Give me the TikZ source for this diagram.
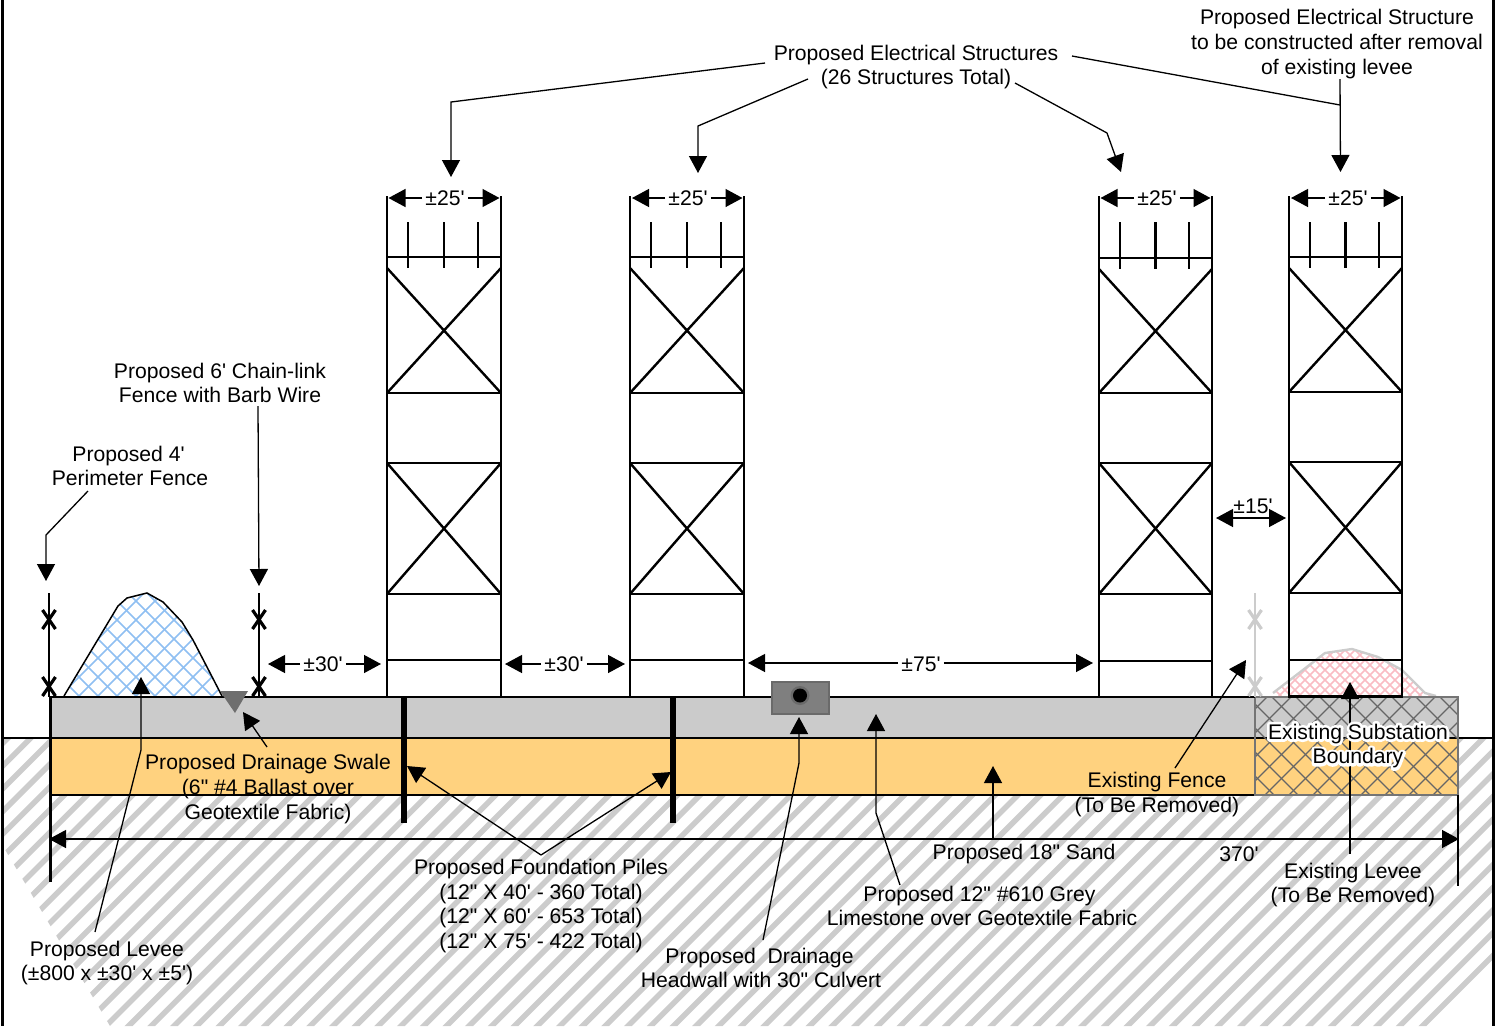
\documentclass[tikz,border=0pt]{standalone}
\usepackage{fontspec}
\usetikzlibrary{arrows.meta}
\newfontfamily\labfont{Liberation Sans}
\definecolor{hatchgrey}{HTML}{CCCCCC}
\definecolor{bandgrey}{HTML}{CBCBCB}
\definecolor{sand}{HTML}{FFD27F}
\definecolor{levblue}{HTML}{8FBFF2}
\definecolor{levpink}{HTML}{F9BCC4}
\definecolor{subgrey}{HTML}{666666}
\definecolor{headfill}{HTML}{7F7F7F}
\definecolor{headedge}{HTML}{6A6A6A}
\newcommand{\halotxt}[1]{\leavevmode\rlap{\special{pdf:code q 1 1 1 RG 1 1 1 rg 5.5 w 1 j 1 J 2 Tr}\textcolor{white}{#1}\special{pdf:code Q}}#1}
\tikzset{
  lab/.style={font=\labfont\fontsize{21.15}{24.7}\selectfont,align=center,inner sep=0pt,text=black},
  dimlab/.style={font=\labfont\fontsize{21.15}{24.7}\selectfont,inner sep=3pt,text=black},
  leader/.style={draw=black,line width=1.3pt,-{Triangle[length=17pt,width=18pt]}},
  plainlead/.style={draw=black,line width=1.3pt},
  dimboth/.style={draw=black,line width=1.3pt,{Triangle[length=17pt,width=18pt]}-{Triangle[length=17pt,width=18pt]}},
  member/.style={draw=black,line width=2.4pt},
  pile/.style={draw=black,line width=6pt},
  fenceline/.style={line width=2.3pt},
  fencex/.style={line width=3.2pt},
  soilline/.style={draw=black,line width=2.2pt},
  hatchline/.style={draw=hatchgrey,line width=5.5pt}
}
\begin{document}
\begin{tikzpicture}[x=1pt,y=-1pt]
\useasboundingbox (0,0) rectangle (1502,1026);
% soil hatch
\begin{scope}
\clip (3,738) -- (1494,738) -- (1494,1026) -- (110,1026) -- (7,853) -- (3,846) -- cycle;
\foreach \c in {0,...,75} {
  \pgfmathsetmacro{\k}{746+\c*22.7}
  \draw[hatchline] (\k-700,700) -- (\k-1100,1100);
}
\end{scope}
% bands
\fill[bandgrey] (50,697) rectangle (1458,738);
\fill[sand] (50,738) rectangle (1458,795);
% blue levee
\begin{scope}
\clip (64,696) -- (118,606) -- (127,598) -- (147,593) -- (163,602) -- (182,622) -- (193,640) -- (222,696) -- cycle;
\foreach \c in {0,...,16} {
  \pgfmathsetmacro{\k}{52+\c*19}
  \draw[levblue,line width=1.5pt] (\k,590) -- (\k-120,710);
  \pgfmathsetmacro{\m}{-65+\c*19}
  \draw[levblue,line width=1.5pt] (\m,590) -- (\m+120,710);
}
\end{scope}
\draw[black,line width=1.5pt] (64,696) -- (118,606) -- (127,598) -- (147,593) -- (163,602) -- (182,622) -- (193,640) -- (222,696);
% pink levee
\begin{scope}
\clip (1273,696) -- (1273,693) -- (1325,653) -- (1352,649) -- (1378,657) -- (1402,670) -- (1425,693) -- (1436,696) -- cycle;
\foreach \c in {0,...,24} {
  \pgfmathsetmacro{\k}{1265+\c*10}
  \draw[levpink,line width=1.6pt] (\k,640) -- (\k-70,710);
  \pgfmathsetmacro{\m}{1205+\c*10}
  \draw[levpink,line width=1.6pt] (\m,640) -- (\m+70,710);
}
\end{scope}
\draw[hatchgrey,line width=2.4pt] (1273,693) -- (1325,653) -- (1352,649) -- (1378,657) -- (1402,670) -- (1425,693) -- (1436,696);
% band lines
\draw[soilline] (3,738) -- (1495,738);
\draw[soilline] (50,795) -- (1255,795);
% substation boundary hatch
\begin{scope}
\clip (1255,697) rectangle (1458,795);
\foreach \c in {0,...,14} {
  \pgfmathsetmacro{\k}{1250+\c*24}
  \draw[subgrey,line width=1.3pt] (\k,690) -- (\k-110,800);
  \pgfmathsetmacro{\m}{1145+\c*24}
  \draw[subgrey,line width=1.3pt] (\m,690) -- (\m+110,800);
}
\end{scope}
\draw[subgrey!90!white,line width=2pt] (1255,697) rectangle (1458,795);
\draw[soilline,line width=2.6pt] (50,697) -- (1255,697);
\draw[soilline,line width=3pt] (50,697) -- (50,882);
\draw[soilline] (1458,795) -- (1458,886);
% frame
\draw[black,line width=2.4pt] (2.5,0) -- (2.5,1026);
\draw[black,line width=2.4pt] (1493.5,0) -- (1493.5,1026);
% towers
\foreach \l/\m/\lvla/\lvlb/\lvlc/\lvld/\lvle in {
  387/501/257/393/463/594/660,
  630/744/257/393/463/594/660,
  1099/1212/258/393/463/594/661,
  1289/1402/257/392/462/593/660} {
  \pgfmathsetmacro{\ca}{\l+21}
  \pgfmathsetmacro{\cb}{(\l+\m)/2}
  \pgfmathsetmacro{\cc}{\m-23}
  \pgfmathsetmacro{\xt}{\lvla+11}
  \draw[member] (\l,196) -- (\l,697);
  \draw[member] (\m,196) -- (\m,697);
  \draw[member] (\l,\lvla) -- (\m,\lvla);
  \draw[member] (\l,\lvlb) -- (\m,\lvlb);
  \draw[member] (\l,\lvlc) -- (\m,\lvlc);
  \draw[member] (\l,\lvld) -- (\m,\lvld);
  \draw[member] (\l,\lvle) -- (\m,\lvle);
  \draw[member] (\l,\xt) -- (\m,\lvlb);
  \draw[member] (\m,\xt) -- (\l,\lvlb);
  \draw[member] (\l,\lvlc) -- (\m,\lvld);
  \draw[member] (\m,\lvlc) -- (\l,\lvld);
  \draw[member] (\ca,222) -- (\ca,\xt);
  \draw[member] (\cb,222) -- (\cb,\xt);
  \draw[member] (\cc,222) -- (\cc,\xt);
}
\draw[member] (1288,696.5) -- (1403,696.5);
% piles
\draw[pile] (404,697) -- (404,823);
\draw[pile] (673,697) -- (673,823);
% fences
\foreach \fx/\fc in {49/black,259/black,1255/hatchgrey} {
  \draw[\fc,fenceline] (\fx,593) -- (\fx,697);
  \draw[\fc,fencex] (\fx-6.5,610) -- (\fx+6.5,629);
  \draw[\fc,fencex] (\fx+6.5,610) -- (\fx-6.5,629);
  \begin{scope}
  \clip (\fx-10,670) rectangle (\fx+10,696);
  \draw[\fc,fencex] (\fx-6.5,677) -- (\fx+6.5,696);
  \draw[\fc,fencex] (\fx+6.5,677) -- (\fx-6.5,696);
  \end{scope}
}
% swale triangle
\fill[black!57] (220,691) -- (248,691) -- (235,713) -- cycle;
% headwall
\draw[headedge,fill=headfill,line width=2pt] (772,681.5) rectangle (828.5,713.5);
\fill[headedge] (800,695.5) circle (9.5);
\fill[black] (800,695.5) circle (7);
% labels
\node[lab] (elec) at (916,67) {Proposed Electrical Structures\\(26 Structures Total)};
\node[lab] (elecone) at (1337,44) {Proposed Electrical Structure\\to be constructed after removal\\of existing levee};
\node[lab] (chain) at (220,383) {Proposed 6' Chain-link\\Fence with Barb Wire};
\node[lab] (perim) at (130,466) {Proposed 4'\kern3pt\\Perimeter Fence};
\node[lab] (swale) at (268,789) {Proposed Drainage Swale\\(6" \#4 Ballast over\\Geotextile Fabric)};
\node[lab] (exfence) at (1157,794.5) {Existing Fence\\(To Be Removed)};
\node[lab] (piles) at (541,906) {Proposed Foundation Piles\\(12" X 40' - 360 Total)\\(12" X 60' - 653 Total)\\(12" X 75' - 422 Total)};
\node[lab] (sandl) at (1024,854) {Proposed 18" Sand};
\node[lab] (lime) at (982,906) {Proposed 12" \#610 Grey\kern5pt\\Limestone over Geotextile Fabric};
\node[lab] (exlev) at (1353,885) {Existing Levee\\(To Be Removed)};
\node[lab] (head) at (761,968) {Proposed\ \ Drainage\kern3pt\\Headwall with 30" Culvert};
\node[lab] (levee) at (107,963) {Proposed Levee\\(±800 x ±30' x ±5')};
\node[lab] (tot) at (1239,854) {370'};
\node[lab] (fifteen) at (1253,506) {±15'};
% leader coordinates
\coordinate (e1a) at (765,63); \coordinate (e1b) at (451,102); \coordinate (e1c) at (451,177);
\coordinate (e2a) at (808,79); \coordinate (e2b) at (698,126); \coordinate (e2c) at (698,173);
\coordinate (e3a) at (1015,83); \coordinate (e3b) at (1107,133); \coordinate (e3c) at (1121,172);
\coordinate (e4a) at (1072,56); \coordinate (e4b) at (1340,105); \coordinate (e4t) at (1340,79); \coordinate (e4c) at (1340.5,172);
\draw[leader] (e1a) -- (e1b) -- (e1c);
\draw[leader] (e2a) -- (e2b) -- (e2c);
\draw[leader] (e3a) -- (e3b) -- (e3c);
\draw[plainlead] (e4a) -- (e4b);
\draw[leader] (e4t) -- (e4c);
\coordinate (pa) at (88,491); \coordinate (pb) at (46,535); \coordinate (pc) at (46,581);
\draw[leader] (pa) -- (pb) -- (pc);
\coordinate (ca) at (258,406); \coordinate (cc) at (259,586);
\draw[leader] (ca) -- (cc);
\coordinate (la) at (95,932); \coordinate (lb) at (141,750); \coordinate (lc) at (141,677);
\draw[leader] (la) -- (lb) -- (lc);
\coordinate (sa) at (267,747); \coordinate (sc) at (243,712);
\draw[leader] (sa) -- (sc);
\coordinate (pile0) at (541,855); \coordinate (pile1) at (407,766); \coordinate (pile2) at (671,772);
\draw[leader] (pile0) -- (pile1);
\draw[leader] (pile0) -- (pile2);
\coordinate (ha) at (763,940); \coordinate (hb) at (799,763); \coordinate (hc) at (799,717);
\draw[leader] (ha) -- (hb) -- (hc);
\coordinate (ma) at (900,885); \coordinate (mb) at (876,813); \coordinate (mc) at (876,714);
\draw[leader] (ma) -- (mb) -- (mc);
\coordinate (na) at (993,840); \coordinate (nc) at (993,766);
\draw[leader] (na) -- (nc);
\coordinate (fa) at (1175,768); \coordinate (fc) at (1246,660);
\draw[leader] (fa) -- (fc);
\coordinate (va) at (1350,854); \coordinate (vc) at (1350,682);
\draw[leader] (va) -- (vc);
% dimensions
\foreach \n/\x/\a/\b in {a/445/388.5/499.5,b/688/632/742.5,c/1157/1100.5/1210.5,d/1348/1291/1400.5} {
  \node[dimlab] (dim\n) at (\x,198) {±25'};
  \coordinate (dim\n L) at (\a,198);
  \coordinate (dim\n R) at (\b,198);
  \draw[leader] (dim\n.west) -- (dim\n L);
  \draw[leader] (dim\n.east) -- (dim\n R);
}
\node[dimlab] (thirtya) at (323,664) {±30'};
\coordinate (t1L) at (268,664); \coordinate (t1R) at (381,664);
\draw[leader] (thirtya.west) -- (t1L);
\draw[leader] (thirtya.east) -- (t1R);
\node[dimlab] (thirtyb) at (564,664) {±30'};
\coordinate (t2L) at (505,664); \coordinate (t2R) at (625,664);
\draw[leader] (thirtyb.west) -- (t2L);
\draw[leader] (thirtyb.east) -- (t2R);
\node[dimlab] (sevfive) at (921,664) {±75'};
\coordinate (t3L) at (748,663); \coordinate (t3R) at (1093,663);
\draw[leader] (sevfive.west |- t3L) -- (t3L);
\draw[leader] (sevfive.east |- t3R) -- (t3R);
\coordinate (q1) at (1216,518); \coordinate (q2) at (1286,518);
\draw[dimboth] (q1) -- (q2);
\coordinate (r1) at (49,839); \coordinate (r2) at (1459,839);
\draw[dimboth] (r1) -- (r2);
% substation label with halo
\node[lab] (sub) at (1358,746) {\halotxt{Existing Substation}\\\halotxt{Boundary}};
\end{tikzpicture}
\end{document}
